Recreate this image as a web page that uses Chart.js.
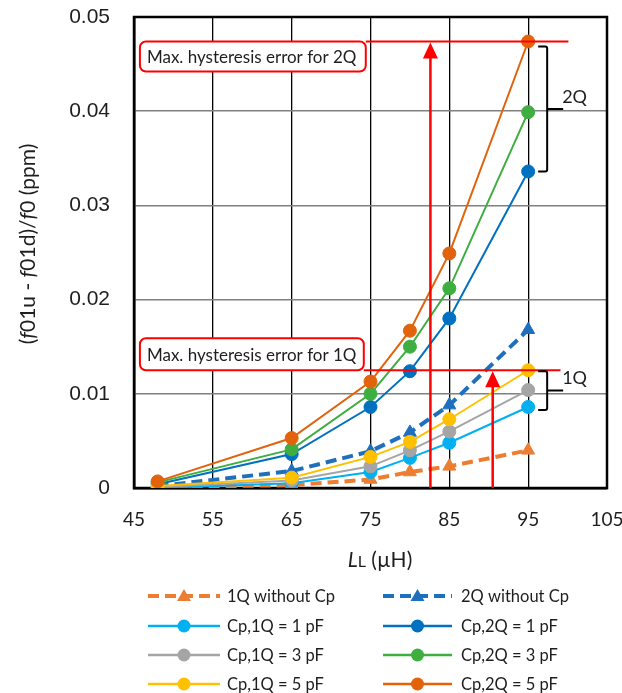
<!DOCTYPE html>
<html>
<head>
<meta charset="utf-8">
<script src="https://cdn.jsdelivr.net/npm/chart.js@4.4.1/dist/chart.umd.min.js"></script>
<style>
  html, body { margin: 0; padding: 0; background: #ffffff; }
  #wrap { width: 622px; height: 693px; position: relative; }
</style>
</head>
<body>
<div id="wrap"><canvas id="c" width="622" height="693"></canvas></div>
<script>
// Load inductance L_L (µH)
const inductanceUH = [48, 65, 75, 80, 85, 95];

// Normalised hysteresis (f01u - f01d)/f0 in ppm
const oneQNoCp   = [0.0001, 0.0003, 0.0009, 0.0017, 0.0023, 0.0040];
const twoQNoCp   = [0.0002, 0.0018, 0.0039, 0.0059, 0.0088, 0.0168];
const cp1Q1pF    = [0.0000, 0.0005, 0.0017, 0.0032, 0.0048, 0.0086];
const cp2Q1pF    = [0.0004, 0.0036, 0.0086, 0.0124, 0.0180, 0.0336];
const cp1Q3pF    = [0.0001, 0.0008, 0.0023, 0.0040, 0.0060, 0.0104];
const cp2Q3pF    = [0.0006, 0.0041, 0.0100, 0.0150, 0.0212, 0.0399];
const cp1Q5pF    = [0.0002, 0.0011, 0.0033, 0.0049, 0.0073, 0.0125];
const cp2Q5pF    = [0.0007, 0.0053, 0.0113, 0.0167, 0.0249, 0.0474];

const seriesLabels = [
  '1Q without Cp', '2Q without Cp',
  'Cp,1Q = 1 pF', 'Cp,2Q = 1 pF',
  'Cp,1Q = 3 pF', 'Cp,2Q = 3 pF',
  'Cp,1Q = 5 pF', 'Cp,2Q = 5 pF'
];

const xTickLabels = ['45', '55', '65', '75', '85', '95', '105'];
const yTickLabels = ['0', '0.01', '0.02', '0.03', '0.04', '0.05'];

// Maximum hysteresis errors, taken from the 5 pF curves
const maxError1Q = Math.max(...cp1Q5pF);
const maxError2Q = Math.max(...cp2Q5pF);

// ---- styling ----
const COLORS = ['#ED7D31', '#1F6FBF', '#00B0F0', '#0070C0', '#A5A5A5', '#3DAE3F', '#FFC000', '#E2630C'];
const SERIES = [oneQNoCp, twoQNoCp, cp1Q1pF, cp2Q1pF, cp1Q3pF, cp2Q3pF, cp1Q5pF, cp2Q5pF];
const TEXT = '#1e1e1e';
const SANS = 'Lato, "Open Sans", "Noto Sans", sans-serif';
const ARIAL = '"Liberation Sans", Arial, sans-serif';
const RED = '#FF0000';

function makeDataset(i) {
  const dashed = i < 2;
  const c = COLORS[i];
  return {
    label: seriesLabels[i],
    data: inductanceUH.map((x, k) => ({ x: x, y: SERIES[i][k] })),
    borderColor: c,
    backgroundColor: c,
    pointBackgroundColor: c,
    pointBorderColor: c,
    pointBorderWidth: 1,
    borderWidth: dashed ? 4 : 2,
    borderDash: dashed ? [11, 6] : [],
    pointStyle: dashed ? 'triangle' : 'circle',
    pointRadius: dashed ? 7.5 : 6.5,
    pointHoverRadius: dashed ? 7.5 : 6.5,
    tension: 0,
    fill: false,
    order: -i
  };
}

// annotation geometry (in axis units, plus pixel extents)
const notes = {
  twoQ: { boxFrom: 45.75, boxTo: 74.4, lineTo: 100.1, arrowX: 82.6, boxH: 30, below: true,  text: 'Max. hysteresis error for 2Q' },
  oneQ: { boxFrom: 45.75, boxTo: 74.15, lineTo: 99.1, arrowX: 90.5, boxH: 32, below: false, text: 'Max. hysteresis error for 1Q' }
};

function roundRect(ctx, x, y, w, h, r) {
  ctx.beginPath();
  ctx.moveTo(x + r, y);
  ctx.lineTo(x + w - r, y);
  ctx.arcTo(x + w, y, x + w, y + r, r);
  ctx.lineTo(x + w, y + h - r);
  ctx.arcTo(x + w, y + h, x + w - r, y + h, r);
  ctx.lineTo(x + r, y + h);
  ctx.arcTo(x, y + h, x, y + h - r, r);
  ctx.lineTo(x, y + r);
  ctx.arcTo(x, y, x + r, y, r);
  ctx.closePath();
}

function drawRuns(ctx, runs, cx, cy) {
  let total = 0;
  runs.forEach(r => { ctx.font = r.font; r.w = ctx.measureText(r.t).width; total += r.w; });
  let x = cx - total / 2;
  runs.forEach(r => {
    ctx.font = r.font;
    ctx.fillText(r.t, x, cy + (r.dy || 0));
    x += r.w;
  });
}

function noScalePadding(s) {
  s.paddingLeft = 0;
  s.paddingRight = 0;
  s.paddingTop = 0;
  s.paddingBottom = 0;
}

const overlayPlugin = {
  id: 'overlay',
  beforeDatasetsDraw(chart) {
    const { ctx, chartArea: a } = chart;
    ctx.save();
    ctx.strokeStyle = '#000';
    ctx.lineWidth = 2.5;
    ctx.strokeRect(a.left, a.top, a.right - a.left, a.bottom - a.top);
    ctx.restore();
  },
  afterDatasetsDraw(chart) {
    const { ctx, scales: { x: xs, y: ys }, chartArea: a } = chart;
    ctx.save();

    // red max-error lines, arrows and boxes
    [['twoQ', maxError2Q], ['oneQ', maxError1Q]].forEach(([key, val]) => {
      const n = notes[key];
      const yl = ys.getPixelForValue(val);
      const bx0 = xs.getPixelForValue(n.boxFrom);
      const bx1 = xs.getPixelForValue(n.boxTo);
      const lx1 = xs.getPixelForValue(n.lineTo);
      const ax = xs.getPixelForValue(n.arrowX);

      ctx.strokeStyle = RED;
      ctx.fillStyle = RED;
      ctx.lineWidth = 2;
      ctx.setLineDash([]);
      ctx.beginPath();
      ctx.moveTo(bx1, yl);
      ctx.lineTo(lx1, yl);
      ctx.stroke();

      // arrow from the axis up to the line
      const head = 16;
      ctx.lineWidth = 2.5;
      ctx.beginPath();
      ctx.moveTo(ax, a.bottom);
      ctx.lineTo(ax, yl + head);
      ctx.stroke();
      ctx.beginPath();
      ctx.moveTo(ax, yl + 1);
      ctx.lineTo(ax - 7.5, yl + head + 1);
      ctx.lineTo(ax + 7.5, yl + head + 1);
      ctx.closePath();
      ctx.fill();

      const by = n.below ? yl : yl - n.boxH;
      roundRect(ctx, bx0, by, bx1 - bx0, n.boxH, 6);
      ctx.fillStyle = '#ffffff';
      ctx.fill();
      ctx.lineWidth = 2;
      ctx.strokeStyle = RED;
      ctx.stroke();
      ctx.fillStyle = TEXT;
      ctx.font = '17px ' + SANS;
      ctx.textAlign = 'left';
      ctx.textBaseline = 'middle';
      ctx.fillText(n.text, bx0 + 7, by + n.boxH / 2 + 1);
    });

    // braces grouping the 95 µH values
    const brace = (vals, label, topOff, botOff) => {
      const x0 = xs.getPixelForValue(95) + 10;
      const x1 = x0 + 9;
      const yt = ys.getPixelForValue(Math.max(...vals)) + topOff;
      const yb = ys.getPixelForValue(Math.min(...vals)) + botOff;
      const ym = (yt + yb) / 2;
      ctx.strokeStyle = '#000';
      ctx.lineWidth = 2;
      ctx.beginPath();
      ctx.moveTo(x0, yt);
      ctx.lineTo(x1 - 2, yt);
      ctx.quadraticCurveTo(x1, yt, x1, yt + 2);
      ctx.lineTo(x1, yb - 2);
      ctx.quadraticCurveTo(x1, yb, x1 - 2, yb);
      ctx.lineTo(x0, yb);
      ctx.moveTo(x1, ym);
      ctx.lineTo(x1 + 16, ym);
      ctx.stroke();
      ctx.fillStyle = TEXT;
      ctx.font = '18px ' + SANS;
      ctx.textAlign = 'left';
      ctx.textBaseline = 'middle';
      ctx.fillText(label, x1 + 15, ym - 12);
    };
    brace([cp2Q1pF[5], cp2Q3pF[5], cp2Q5pF[5]], '2Q', 5, 0);
    brace([cp1Q1pF[5], cp1Q3pF[5], cp1Q5pF[5]], '1Q', 1, 3);

    ctx.restore();
  },
  afterDraw(chart) {
    const { ctx } = chart;
    ctx.save();
    ctx.fillStyle = TEXT;
    ctx.textAlign = 'left';
    ctx.textBaseline = 'middle';

    // x-axis title: L_L (µH)
    drawRuns(ctx, [
      { t: 'L', font: 'italic 21px ' + SANS },
      { t: 'L', font: '16px ' + SANS, dy: 2 },
      { t: ' (\u00B5H)', font: '21px ' + SANS }
    ], 380, 560);

    // y-axis title: (f01u - f01d)/f0 (ppm)
    ctx.save();
    ctx.translate(28, 244);
    ctx.rotate(-Math.PI / 2);
    const it = 'italic 21px ' + SANS, rg = '21px ' + SANS;
    drawRuns(ctx, [
      { t: '(', font: rg }, { t: 'f', font: it }, { t: '01u - ', font: rg },
      { t: 'f', font: it }, { t: '01d)/', font: rg }, { t: 'f', font: it },
      { t: '0 (ppm)', font: rg }
    ], 0, 0);
    ctx.restore();

    // legend in two columns
    const cols = [{ l0: 148, l1: 220, tx: 227 }, { l0: 383, l1: 452, tx: 461 }];
    const rows = [596, 626, 655, 684];
    chart.data.datasets.forEach((d, i) => {
      const c = cols[i % 2];
      const y = rows[Math.floor(i / 2)];
      ctx.strokeStyle = d.borderColor;
      ctx.fillStyle = d.borderColor;
      const dashed = d.borderDash.length > 0;
      ctx.lineWidth = dashed ? 4 : 2.5;
      ctx.setLineDash(dashed ? [11, 6] : []);
      ctx.beginPath();
      ctx.moveTo(c.l0, y);
      ctx.lineTo(c.l1, y);
      ctx.stroke();
      ctx.setLineDash([]);
      const mx = (c.l0 + c.l1) / 2;
      if (dashed) {
        ctx.beginPath();
        ctx.moveTo(mx, y - 7);
        ctx.lineTo(mx - 7, y + 5);
        ctx.lineTo(mx + 7, y + 5);
        ctx.closePath();
        ctx.fill();
      } else {
        ctx.beginPath();
        ctx.arc(mx, y, 6.5, 0, Math.PI * 2);
        ctx.fill();
      }
      ctx.fillStyle = TEXT;
      ctx.font = '16.5px ' + SANS;
      ctx.fillText(d.label, c.tx, y + 1);
    });
    ctx.restore();
  }
};

new Chart(document.getElementById('c'), {
  type: 'line',
  data: { datasets: SERIES.map((_, i) => makeDataset(i)) },
  options: {
    responsive: false,
    animation: false,
    devicePixelRatio: 1,
    layout: { padding: { top: 17, right: 15, bottom: 0, left: 0 } },
    plugins: { legend: { display: false }, tooltip: { enabled: false } },
    events: [],
    scales: {
      x: {
        type: 'linear',
        min: 45,
        max: 105,
        afterFit(s) { s.height = 205; noScalePadding(s); },
        afterBuildTicks(s) {
          s.ticks = xTickLabels.map(v => ({ value: Number(v) }));
        },
        ticks: {
          padding: 20,
          color: TEXT,
          font: { family: SANS, size: 19 },
          maxRotation: 0,
          autoSkip: false,
          callback: (v, i) => xTickLabels[i]
        },
        grid: { color: '#000', lineWidth: 1.3, drawTicks: false },
        border: { color: '#000', width: 2.5 }
      },
      y: {
        type: 'linear',
        min: 0,
        max: 0.05,
        afterFit(s) { s.width = 134; noScalePadding(s); },
        afterBuildTicks(s) {
          s.ticks = yTickLabels.map(v => ({ value: Number(v) }));
        },
        ticks: {
          padding: 24,
          color: TEXT,
          font: { family: ARIAL, size: 21 },
          autoSkip: false,
          callback: (v, i) => yTickLabels[i]
        },
        grid: { color: '#808080', lineWidth: 1.6, drawTicks: false },
        border: { color: '#000', width: 2.5 }
      }
    }
  },
  plugins: [overlayPlugin]
});
</script>
</body>
</html>
